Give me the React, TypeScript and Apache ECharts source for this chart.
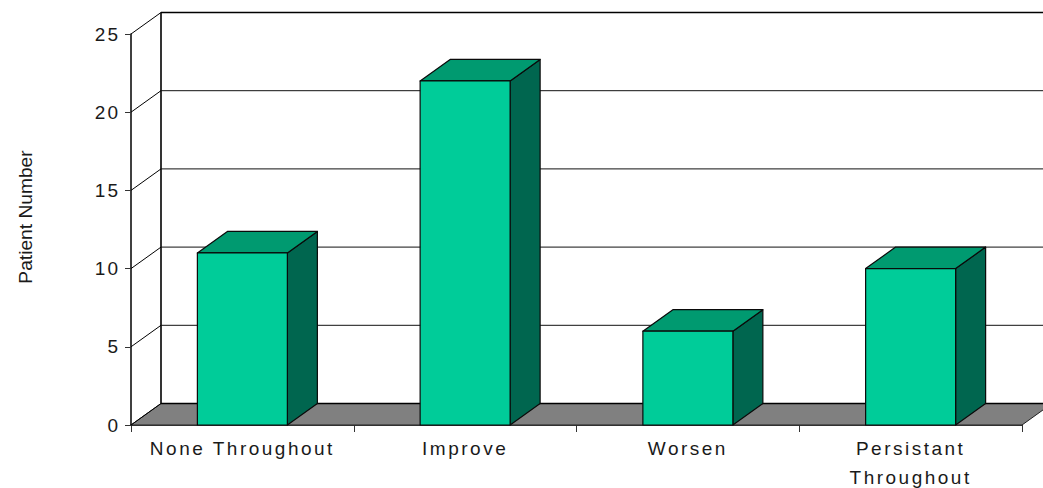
import React, { useEffect, useRef } from "react";
import * as echarts from "echarts";

const categories = ["None Throughout", "Improve", "Worsen", "Persistant\nThroughout"];
const patientNumbers = [11, 22, 6, 10];
const yTicks = [0, 5, 10, 15, 20, 25];
const yTitle = "Patient Number";

const DX = 30;
const DY = -21.5;
const FRONT = "#00CC99";
const TOP = "#009A70";
const SIDE = "#00664F";
const FLOOR = "#808080";
const INK = "#000000";
const TEXT = "#1a1a1a";

function bandEdges(api: any) {
  const band = api.size([1, 0])[0];
  const left = api.coord([0, 0])[0] - band / 2;
  const right = api.coord([categories.length - 1, 0])[0] + band / 2;
  return { left, right, band };
}

export default function App() {
  const ref = useRef<HTMLDivElement>(null);
  useEffect(() => {
    const chart = echarts.init(ref.current!, undefined, { renderer: "svg" });
    chart.setOption({
      animation: false,
      backgroundColor: "#ffffff",
      textStyle: { fontFamily: "Liberation Sans" },
      grid: { left: 131, right: 21, top: 34, bottom: 63, outerBoundsMode: "none" },
      xAxis: {
        type: "category",
        data: categories,
        axisLine: { lineStyle: { color: INK, width: 1.5 } },
        axisTick: { show: true, length: 7, alignWithLabel: false, lineStyle: { color: "#333", width: 1 } },
        axisLabel: {
          interval: 0,
          margin: 9,
          fontSize: 19,
          lineHeight: 29,
          color: TEXT,
          fontFamily: "Liberation Sans",
          verticalAlign: "top",
        },
        splitLine: { show: false },
      },
      yAxis: {
        type: "value",
        min: 0,
        max: 25,
        interval: 5,
        axisLine: { show: true, lineStyle: { color: INK, width: 1.5 } },
        axisTick: { show: true, length: 6, lineStyle: { color: "#333", width: 1 } },
        axisLabel: { margin: 11, fontSize: 19, color: TEXT, fontFamily: "Liberation Sans" },
        splitLine: { show: false },
      },
      graphic: [
        {
          type: "text",
          x: 25,
          y: 217,
          rotation: Math.PI / 2,
          style: {
            text: yTitle,
            fontSize: 19.2,
            fontFamily: "Liberation Sans",
            fill: TEXT,
            align: "center",
            verticalAlign: "middle",
          },
        },
      ],
      series: [
        {
          // Floor of the 3D box
          type: "custom",
          silent: true,
          clip: false,
          z: 1,
          data: [[0, 0]],
          encode: { x: 0, y: 1 },
          renderItem: (_: any, api: any) => {
            const { left, right } = bandEdges(api);
            const y = api.coord([0, 0])[1];
            return {
              type: "polygon",
              shape: {
                points: [
                  [left, y],
                  [left + DX, y + DY],
                  [right + DX, y + DY],
                  [right, y],
                ],
              },
              style: { fill: FLOOR, stroke: "#222", lineWidth: 1 },
            };
          },
        },
        {
          // Wall gridlines, one per tick
          type: "custom",
          silent: true,
          clip: false,
          z: 2,
          data: yTicks.map((v) => [0, v]),
          encode: { x: 0, y: 1 },
          renderItem: (_: any, api: any) => {
            const { left, right } = bandEdges(api);
            const v = api.value(1);
            const y = api.coord([0, v])[1];
            const edge = v === 0 || v === 25;
            const children: any[] = [
              {
                type: "line",
                shape: { x1: left, y1: y, x2: left + DX, y2: y + DY },
                style: { stroke: INK, lineWidth: 1 },
              },
              {
                type: "line",
                shape: { x1: left + DX, y1: y + DY, x2: right + DX, y2: y + DY },
                style: { stroke: edge ? INK : "#111", lineWidth: edge ? 1.6 : 1 },
              },
            ];
            if (v === 0) {
              const top = api.coord([0, 25])[1];
              children.push({
                type: "line",
                shape: { x1: left + DX, y1: y + DY, x2: left + DX, y2: top + DY },
                style: { stroke: INK, lineWidth: 1.6 },
              });
            }
            return { type: "group", children };
          },
        },
        {
          // 3D bars
          type: "custom",
          silent: true,
          clip: false,
          z: 3,
          data: patientNumbers.map((v, i) => [i, v]),
          encode: { x: 0, y: 1 },
          renderItem: (_: any, api: any) => {
            const i = api.value(0);
            const v = api.value(1);
            const [cx, yTop] = api.coord([i, v]);
            const yBase = api.coord([i, 0])[1];
            const w = api.size([1, 0])[0] * 0.404;
            const l = cx - w / 2;
            const r = cx + w / 2;
            const line = { stroke: "#0a0a0a", lineWidth: 1.2, lineJoin: "round" };
            return {
              type: "group",
              children: [
                {
                  type: "polygon",
                  shape: { points: [[r, yBase], [r + DX, yBase + DY], [r + DX, yTop + DY], [r, yTop]] },
                  style: { fill: SIDE, ...line },
                },
                {
                  type: "polygon",
                  shape: { points: [[l, yTop], [l + DX, yTop + DY], [r + DX, yTop + DY], [r, yTop]] },
                  style: { fill: TOP, ...line },
                },
                {
                  type: "polygon",
                  shape: { points: [[l, yBase], [l, yTop], [r, yTop], [r, yBase]] },
                  style: { fill: FRONT, ...line },
                },
              ],
            };
          },
        },
      ],
    });
    // Reference text is set with wide tracking, except the axis title
    ref.current!.querySelectorAll("text").forEach((t) => {
      const s = t.textContent || "";
      if (s === yTitle) (t as any).style.letterSpacing = "0px";
      else if (/^\d+$/.test(s)) (t as any).style.letterSpacing = "2px";
      else (t as any).style.letterSpacing = "2.5px";
    });
    return () => chart.dispose();
  }, []);
  return (
    <div
      ref={ref}
      style={{ position: "fixed", left: 0, top: 0, width: 1043, height: 488, overflow: "hidden" }}
    />
  );
}
